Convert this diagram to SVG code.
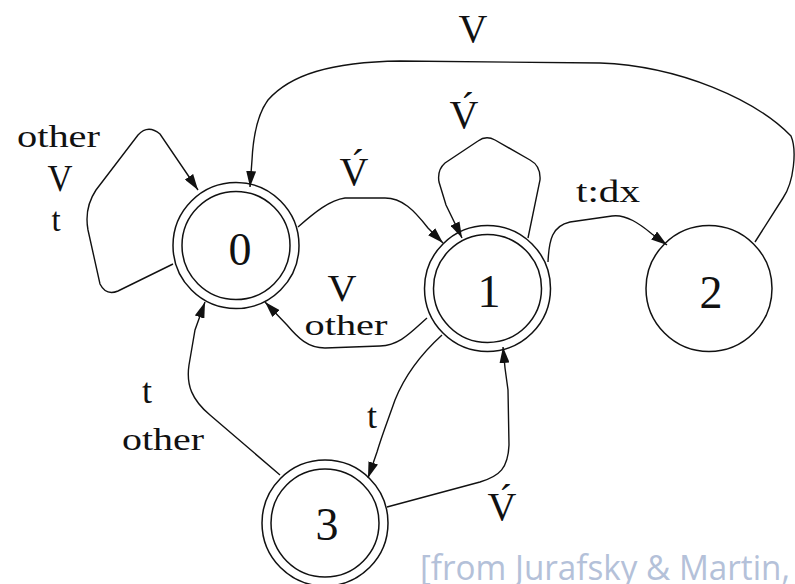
<svg xmlns="http://www.w3.org/2000/svg" width="795" height="584" viewBox="0 0 795 584">
<style>
  .ring { fill: none; stroke: #111; stroke-width: 1.5; }
  .edge { fill: none; stroke: #111; stroke-width: 1.4; marker-end: url(#arrow); }
  .num { font-family: "Liberation Serif", "Times New Roman", serif; font-size: 46px; fill: #111; text-anchor: middle; }
  .lbl { font-family: "Liberation Serif", "Times New Roman", serif; fill: #111; text-anchor: middle; }
  .w { font-size: 32px; }
  .ws { font-size: 29px; }
  .v { font-size: 40px; }
  .vs { font-size: 37px; }
  .t { font-size: 36px; }
  .ts { font-size: 33px; }
  .cite { font-family: "Open Sans", "Noto Sans", sans-serif; font-size: 34px; fill: #b4c1d9; }
</style>
<defs>
  <marker id="arrow" viewBox="0 0 16 10" refX="16" refY="5" markerWidth="16" markerHeight="10" orient="auto" markerUnits="userSpaceOnUse">
    <path d="M0,0 L16,5 L0,10 z" fill="#111"/>
  </marker>
</defs>
<rect width="795" height="584" fill="#fff"/>

<g id="connectors">
  <path id="e-0-0" class="edge" d="M173,264 L118,291 Q106,296 100,284 L88,230 Q84,208 96,190 L138,135 Q148,124 160,134 L198,190"/>
  <path id="e-2-0" class="edge" d="M755,242 L783,198 C794,182 797,150 791,136 C756,100 680,66 600,63 L400,61 C330,62 290,75 268,100 C257,115 253,140 252,160 L250,187"/>
  <path id="e-0-1" class="edge" d="M298,227 C315,212 330,200 345,198 L385,198 C402,198 414,210 428,228 L443,243"/>
  <path id="e-1-1" class="edge" d="M528,238 L540,180 Q541,166 530,160 L495,140 Q486,135 478,141 L445,163 Q437,170 439,182 L446,205 L462,238"/>
  <path id="e-1-2" class="edge" d="M548,262 C549,240 552,226 570,222 L612,216 C626,214 640,224 652,234 L667,245"/>
  <path id="e-1-0" class="edge" d="M427,318 C410,333 400,345 380,346 L325,348 C308,348 298,338 287,325 L265,302"/>
  <path id="e-3-0" class="edge" d="M280,475 L210,415 C192,400 186,385 189,365 L195,330 L205,302"/>
  <path id="e-1-3" class="edge" d="M442,335 C420,355 405,375 395,400 C388,420 382,435 377,452 L368,478"/>
  <path id="e-3-1" class="edge" d="M387,507 L480,482 C500,476 508,468 509,445 L508,390 L505,368 L503,347"/>
</g>

<g id="node0">
  <circle class="ring" cx="236" cy="245.5" r="63"/>
  <circle class="ring" cx="236" cy="245.5" r="54"/>
  <text class="num" x="240" y="265">0</text>
</g>
<g id="node1">
  <circle class="ring" cx="487.5" cy="288.5" r="63"/>
  <circle class="ring" cx="487.5" cy="288.5" r="54"/>
  <text class="num" x="489" y="307">1</text>
</g>
<g id="node2">
  <circle class="ring" cx="709" cy="288.5" r="63"/>
  <text class="num" x="711" y="308">2</text>
</g>
<g id="node3">
  <circle class="ring" cx="325" cy="523" r="63"/>
  <circle class="ring" cx="325" cy="523" r="54"/>
  <text class="num" x="327" y="540">3</text>
</g>

<g id="labels">
  <text class="lbl"><tspan class="w" x="58.5" y="147" textLength="83" lengthAdjust="spacingAndGlyphs">other</tspan><tspan class="vs" x="60" y="191" textLength="25" lengthAdjust="spacingAndGlyphs">V</tspan><tspan class="ts" x="56" y="231">t</tspan></text>

  <text class="lbl v" x="473" y="42">V</text>

  <text class="lbl v" x="354" y="185">V&#x301;</text>

  <text class="lbl v" x="464" y="128">V&#x301;</text>

  <text class="lbl w" x="608" y="202" textLength="64" lengthAdjust="spacingAndGlyphs">t:dx</text>

  <text class="lbl"><tspan class="vs" x="342" y="301" textLength="29" lengthAdjust="spacingAndGlyphs">V</tspan><tspan class="ws" x="346" y="335" textLength="83" lengthAdjust="spacingAndGlyphs">other</tspan></text>

  <text class="lbl"><tspan class="t" x="147" y="403">t</tspan><tspan class="w" x="163" y="450" textLength="82" lengthAdjust="spacingAndGlyphs">other</tspan></text>

  <text class="lbl t" x="372" y="428">t</text>

  <text class="lbl v" x="502" y="520">V&#x301;</text>
</g>

<text class="cite" x="420" y="580" textLength="370" lengthAdjust="spacingAndGlyphs">[from Jurafsky &amp; Martin,</text>
</svg>
